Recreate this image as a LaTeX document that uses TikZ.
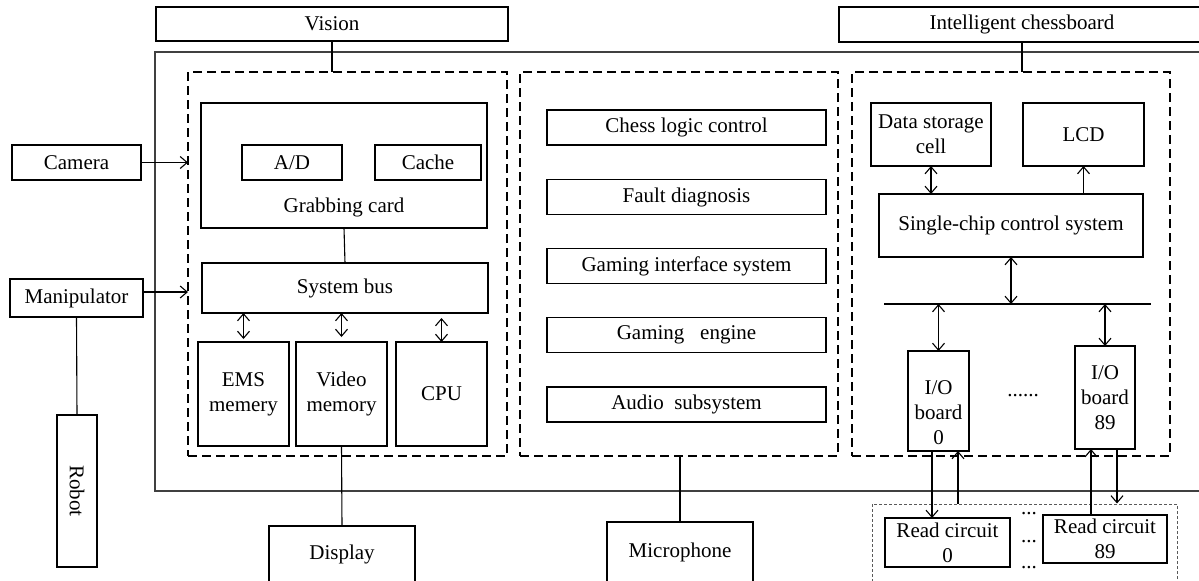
\documentclass[tikz,border=0pt]{standalone}
\usepackage{fontspec}
\setmainfont{Liberation Serif}
\usetikzlibrary{arrows.meta}

\begin{document}
\begin{tikzpicture}[
        x=0.5pt, y=-0.5pt,
        font=\fontsize{10.5}{12.5}\selectfont,
        blk/.style={draw, line width=0.55pt, inner sep=0pt, outer sep=0pt, align=center},
        sz/.style 2 args={minimum width=#1*0.5pt, minimum height=#2*0.5pt},
        grpbox/.style={draw, line width=0.9pt, dash pattern=on 4.5pt off 2.5pt, inner sep=0pt, outer sep=0pt},
        rdbox/.style={draw, black!65, line width=0.5pt, dash pattern=on 1.5pt off 1pt, inner sep=0pt},
        link/.style={line width=0.55pt},
        arrow/.style={link, -{Straight Barb[length=3.5pt,width=6pt]}},
        dblarrow/.style={link, {Straight Barb[length=3.5pt,width=6pt]}-{Straight Barb[length=3.5pt,width=6pt]}}
    ]
    \useasboundingbox (0,0) rectangle (1199,580);

    % ==========================================
    % FRAME AND GROUPS
    % ==========================================
    \draw[line width=0.55pt, black!75] (155,52) rectangle (1215,491);
    \node[blk, sz={352}{34}] (vision) at (332,24) {Vision};
    \node[blk, sz={366}{35}] (chessbd) at (1022,24.5) {Intelligent chessboard};

    \node[grpbox, sz={319}{384}] (grpvis) at (347.5,264) {};
    \node[grpbox, sz={318}{384}] (grpmid) at (679,264) {};
    \node[grpbox, sz={318}{384}] (grpchess) at (1011,264) {};

    \draw[link] (vision.south) -- (vision.south |- grpvis.north);
    \draw[link] (chessbd.south) -- (chessbd.south |- grpchess.north);

    % ==========================================
    % LEFT: CAMERA, MANIPULATOR, ROBOT
    % ==========================================
    \node[blk, sz={129}{35}] (cam) at (76.5,162.5) {Camera};
    \node[blk, sz={133}{38}] (manip) at (76.5,298) {Manipulator};
    \node[blk, sz={152}{40}, rotate=-90] (robot) at (77,491) {Robot};

    \draw[arrow] (cam.east) -- (cam.east -| grpvis.west);
    \draw[arrow] ([yshift=3pt]manip.east) -- ([yshift=3pt]manip.east -| grpvis.west);
    \draw[link] (manip.south) -- (robot.west);

    % ==========================================
    % VISION GROUP
    % ==========================================
    \node[blk, sz={286}{125}] (grab) at (344,165.5) {};
    \node[blk, sz={100}{35}] (ad) at (292,162.5) {A/D};
    \node[blk, sz={106}{35}] (cache) at (428,162.5) {Cache};
    \node (grablbl) at (344,207) {Grabbing card};

    \node[blk, sz={286}{50}] (sysbus) at (345,288) {System bus};
    \draw[link] (grab.south) -- (sysbus.north);

    \node[blk, sz={91}{104}] (ems) at (243.5,394) {EMS\\memery};
    \node[blk, sz={91}{104}] (video) at (341.5,394) {Video\\memory};
    \node[blk, sz={91}{104}] (cpu) at (441.5,394) {CPU};

    \draw[dblarrow] (ems.north |- sysbus.south) -- ([yshift=1.5pt]ems.north);
    \draw[dblarrow] (video.north |- sysbus.south) -- ([yshift=2.5pt]video.north);
    \draw[dblarrow] ([yshift=-2.5pt]cpu.north |- sysbus.south) -- (cpu.north);

    \node[blk, sz={146}{56}] (display) at (342,554) {Display};
    \draw[link] (video.south) -- (display.north);

    % ==========================================
    % MIDDLE GROUP
    % ==========================================
    \node[blk, sz={279}{35}] (logic) at (686.5,127.5) {Chess logic control};
    \node[blk, sz={279}{35}] (fault) at (686.5,197) {Fault diagnosis};
    \node[blk, sz={279}{35}] (gameif) at (686.5,266) {Gaming interface system};
    \node[blk, sz={279}{35}] (engine) at (686.5,335) {Gaming\ \ \ engine};
    \node[blk, sz={279}{35}] (audio) at (686.5,404.5) {Audio\ \ subsystem};

    \node[blk, sz={146}{60}] (mic) at (680,552) {Microphone};
    \draw[link] (mic.north |- grpmid.south) -- (mic.north);

    % ==========================================
    % RIGHT: INTELLIGENT CHESSBOARD
    % ==========================================
    \node[blk, sz={120}{63}] (datacell) at (931,134.5) {Data storage\\cell};
    \node[blk, sz={121}{63}] (lcd) at (1083.5,134.5) {LCD};
    \node[blk, sz={264}{63}] (mcu) at (1011,225.5) {Single-chip control system};

    \draw[dblarrow] (datacell.south) -- (datacell.south |- mcu.north);
    \draw[arrow] (lcd.south |- mcu.north) -- (lcd.south);

    \coordinate (busL) at (884,304);
    \coordinate (busR) at (1151,304);
    \draw[link] (busL) -- (busR);
    \draw[dblarrow] (mcu.south) -- (mcu.south |- busL);

    \node[blk, sz={61}{100}] (io0) at (938.5,401) {\rule{0pt}{19pt}I/O\\board\\0};
    \node[blk, sz={60}{103}] (io89) at (1105,397.5) {I/O\\board\\89};
    \node (iodots) at (1023,396) {......};

    \draw[dblarrow] (io0.north |- busL) -- (io0.north);
    \draw[dblarrow] (io89.north |- busL) -- (io89.north);

    % ==========================================
    % READ CIRCUITS
    % ==========================================
    \node[rdbox, sz={305}{90}] (rdgrp) at (1024.5,549) {};
    \node[blk, sz={125}{49}] (rd0) at (947.5,542.5) {Read circuit\\0};
    \node[blk, sz={124}{48}] (rd89) at (1105,539) {Read circuit\\89};
    \node (dotsA) at (1029,514) {...};
    \node (dotsB) at (1029,542) {...};
    \node (dotsC) at (1029,568) {...};

    \draw[arrow] ([xshift=-3.25pt]io0.south) -- ([xshift=-3.25pt]io0.south |- rd0.north);
    \draw[arrow] ([xshift=9.75pt]io0.south |- rdgrp.north) -- ([xshift=9.75pt]io0.south);
    \draw[arrow] ([xshift=-7pt]io89.south |- rd89.north) -- ([xshift=-7pt]io89.south);
    \draw[arrow] ([xshift=6pt]io89.south) -- ([xshift=6pt]io89.south |- rdgrp.north);

\end{tikzpicture}
\end{document}
